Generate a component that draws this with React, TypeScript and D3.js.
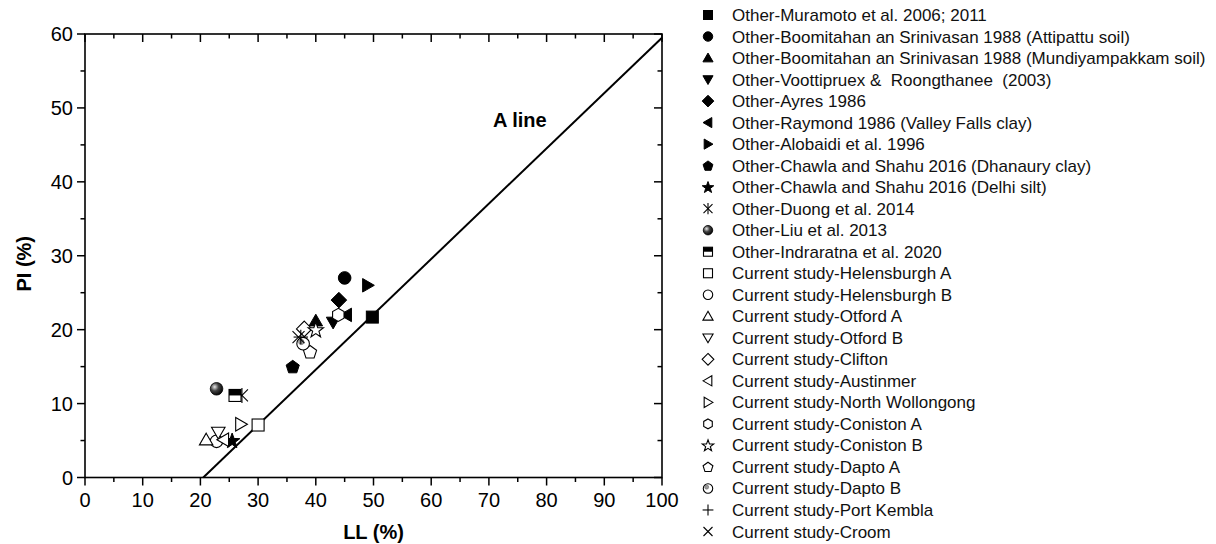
import * as d3 from "d3";

// ---- data ----
const otherNames = [
  "Other-Muramoto et al. 2006; 2011",
  "Other-Boomitahan an Srinivasan 1988 (Attipattu soil)",
  "Other-Boomitahan an Srinivasan 1988 (Mundiyampakkam soil)",
  "Other-Voottipruex &  Roongthanee  (2003)",
  "Other-Ayres 1986",
  "Other-Raymond 1986 (Valley Falls clay)",
  "Other-Alobaidi et al. 1996",
  "Other-Chawla and Shahu 2016 (Dhanaury clay)",
  "Other-Chawla and Shahu 2016 (Delhi silt)",
  "Other-Duong et al. 2014",
  "Other-Liu et al. 2013",
  "Other-Indraratna et al. 2020",
];
const otherShapes = ["square", "circle", "triUp", "triDown", "diamond", "triLeft", "triRight", "pentagon", "star", "asterisk", "ball", "halfSquare"];
const otherLL = [49.8, 45, 40, 43, 44, 45.3, 49, 36, 25.5, 27.2, 22.8, 26];
const otherPI = [21.7, 27, 21.2, 21, 24, 22, 26, 15, 5, 11.1, 12, 11.1];

const currentNames = [
  "Current study-Helensburgh A",
  "Current study-Helensburgh B",
  "Current study-Otford A",
  "Current study-Otford B",
  "Current study-Clifton",
  "Current study-Austinmer",
  "Current study-North Wollongong",
  "Current study-Coniston A",
  "Current study-Coniston B",
  "Current study-Dapto A",
  "Current study-Dapto B",
  "Current study-Port Kembla",
  "Current study-Croom",
];
const currentShapes = ["square", "circle", "triUp", "triDown", "diamond", "triLeft", "triRight", "hexagon", "star", "pentagon", "dotCircle", "plus", "cross"];
const currentLL = [30, 22.8, 21, 23.1, 38, 24, 27, 43.9, 40, 39, 37.8, 37.4, 37];
const currentPI = [7.1, 4.9, 5.1, 6.1, 20.1, 5.1, 7.2, 22, 20, 17, 18.1, 19, 19];

const xTicks = [0, 10, 20, 30, 40, 50, 60, 70, 80, 90, 100];
const yTicks = [0, 10, 20, 30, 40, 50, 60];
const aLineLL = [20.5, 100];
const aLinePI = [0, 59.5];

const W = 1216;
const H = 544;
const m = { left: 85, right: 662, top: 34, bottom: 477.5 };

function poly(n: number, r: number, rot: number, cx: number, cy: number) {
  return d3
    .range(n)
    .map((i) => {
      const a = rot + (i * 2 * Math.PI) / n;
      return `${cx + r * Math.cos(a)},${cy + r * Math.sin(a)}`;
    })
    .join(" ");
}

function starPts(cx: number, cy: number, ro: number, ri: number) {
  return d3
    .range(10)
    .map((i) => {
      const r = i % 2 === 0 ? ro : ri;
      const a = -Math.PI / 2 + (i * Math.PI) / 5;
      return `${cx + r * Math.cos(a)},${cy + r * Math.sin(a)}`;
    })
    .join(" ");
}

function Marker({ shape, x, y, s, filled }: { shape: string; x: number; y: number; s: number; filled: boolean }) {
  const fill = filled ? "#000" : "#fff";
  const sw = filled ? 1 : 1.1;
  const common = { fill, stroke: "#000", strokeWidth: sw };
  switch (shape) {
    case "square":
      return <rect x={x - s} y={y - s} width={2 * s} height={2 * s} {...common} />;
    case "circle":
      return <circle cx={x} cy={y} r={s * 1.05} {...common} />;
    case "triUp":
      return <polygon points={poly(3, s * 1.3, -Math.PI / 2, x, y + s * 0.2)} {...common} />;
    case "triDown":
      return <polygon points={poly(3, s * 1.3, Math.PI / 2, x, y - s * 0.2)} {...common} />;
    case "triLeft":
      return <polygon points={poly(3, s * 1.3, Math.PI, x + s * 0.2, y)} {...common} />;
    case "triRight":
      return <polygon points={poly(3, s * 1.3, 0, x - s * 0.2, y)} {...common} />;
    case "diamond":
      return <polygon points={poly(4, s * 1.3, -Math.PI / 2, x, y)} {...common} />;
    case "pentagon":
      return <polygon points={poly(5, s * 1.15, -Math.PI / 2, x, y + s * 0.1)} {...common} />;
    case "hexagon":
      return <polygon points={poly(6, s * 1.1, -Math.PI / 2, x, y)} {...common} />;
    case "star":
      return <polygon points={starPts(x, y + s * 0.1, s * 1.35, s * 0.55)} {...common} />;
    case "asterisk":
      return (
        <g stroke="#000" strokeWidth={1.1}>
          <line x1={x - s} y1={y - s} x2={x + s} y2={y + s} />
          <line x1={x - s} y1={y + s} x2={x + s} y2={y - s} />
          <line x1={x} y1={y - s * 1.25} x2={x} y2={y + s * 1.25} />
        </g>
      );
    case "ball":
      return <circle cx={x} cy={y} r={s * 1.05} fill="url(#ballGrad)" stroke="#000" strokeWidth={0.8} />;
    case "halfSquare":
      return (
        <g>
          <rect x={x - s} y={y - s} width={2 * s} height={2 * s} fill="#fff" stroke="#000" strokeWidth={1.1} />
          <rect x={x - s} y={y - s} width={2 * s} height={s} fill="#000" />
        </g>
      );
    case "dotCircle":
      return (
        <g>
          <circle cx={x} cy={y} r={s * 1.05} fill="#fff" stroke="#000" strokeWidth={1.1} />
          <circle cx={x - s * 0.3} cy={y - s * 0.3} r={s * 0.45} fill="#999" stroke="#666" strokeWidth={0.6} />
        </g>
      );
    case "plus":
      return (
        <g stroke="#000" strokeWidth={1.1}>
          <line x1={x - s * 1.2} y1={y} x2={x + s * 1.2} y2={y} />
          <line x1={x} y1={y - s * 1.2} x2={x} y2={y + s * 1.2} />
        </g>
      );
    case "cross":
      return (
        <g stroke="#000" strokeWidth={1.1}>
          <line x1={x - s} y1={y - s} x2={x + s} y2={y + s} />
          <line x1={x - s} y1={y + s} x2={x + s} y2={y - s} />
        </g>
      );
    default:
      return null;
  }
}

export default function App() {
  const x = d3.scaleLinear().domain([0, 100]).range([m.left, m.right]);
  const y = d3.scaleLinear().domain([0, 60]).range([m.bottom, m.top]);
  const xMinor = d3.range(5, 100, 10);
  const yMinor = d3.range(5, 60, 10);
  const font = "Liberation Sans, Arial, sans-serif";

  const aLine = d3
    .line<number>()
    .x((d) => x(d))
    .y((_, i) => y(aLinePI[i]));

  const legendNames = [...otherNames, ...currentNames];
  const legendShapes = [...otherShapes, ...currentShapes];
  const legendY = d3.scaleLinear().domain([0, legendNames.length - 1]).range([15, 531.5]);

  return (
    <svg width={W} height={H} style={{ position: "absolute", left: 0, top: 0, background: "#fff" }} fontFamily={font}>
      <defs>
        <radialGradient id="ballGrad" cx="0.35" cy="0.35" r="0.7">
          <stop offset="0" stopColor="#e8e8e8" />
          <stop offset="0.45" stopColor="#444" />
          <stop offset="1" stopColor="#000" />
        </radialGradient>
      </defs>
      <rect width={W} height={H} fill="#fff" />

      {/* frame */}
      <rect x={m.left} y={m.top} width={m.right - m.left} height={m.bottom - m.top} fill="none" stroke="#000" strokeWidth={1.6} />

      {/* bottom & top ticks */}
      {xTicks.map((t) => (
        <g key={"xt" + t}>
          <line x1={x(t)} x2={x(t)} y1={m.bottom} y2={m.bottom + 8} stroke="#000" strokeWidth={1.5} />
          <line x1={x(t)} x2={x(t)} y1={m.top} y2={m.top + 8} stroke="#000" strokeWidth={1.5} />
          <text x={x(t)} y={m.bottom + 29} textAnchor="middle" fontSize={20}>
            {t}
          </text>
        </g>
      ))}
      {xMinor.map((t) => (
        <g key={"xm" + t}>
          <line x1={x(t)} x2={x(t)} y1={m.bottom} y2={m.bottom + 4.5} stroke="#000" strokeWidth={1.5} />
          <line x1={x(t)} x2={x(t)} y1={m.top} y2={m.top + 4.5} stroke="#000" strokeWidth={1.5} />
        </g>
      ))}

      {/* left & right ticks */}
      {yTicks.map((t) => (
        <g key={"yt" + t}>
          <line x1={m.left - 8} x2={m.left} y1={y(t)} y2={y(t)} stroke="#000" strokeWidth={1.5} />
          <line x1={m.right - 8} x2={m.right} y1={y(t)} y2={y(t)} stroke="#000" strokeWidth={1.5} />
          <text x={m.left - 12} y={y(t) + 7} textAnchor="end" fontSize={20}>
            {t}
          </text>
        </g>
      ))}
      {yMinor.map((t) => (
        <g key={"ym" + t}>
          <line x1={m.left - 4.5} x2={m.left} y1={y(t)} y2={y(t)} stroke="#000" strokeWidth={1.5} />
          <line x1={m.right - 4.5} x2={m.right} y1={y(t)} y2={y(t)} stroke="#000" strokeWidth={1.5} />
        </g>
      ))}

      {/* axis titles */}
      <text x={(m.left + m.right) / 2} y={539} textAnchor="middle" fontSize={20} fontWeight="bold">
        LL (%)
      </text>
      <text transform={`translate(31,${(m.top + m.bottom) / 2 + 8}) rotate(-90)`} textAnchor="middle" fontSize={20} fontWeight="bold">
        PI (%)
      </text>

      {/* A line */}
      <path d={aLine(aLineLL) ?? ""} fill="none" stroke="#000" strokeWidth={2} />
      <text x={493} y={127} fontSize={20} fontWeight="bold">
        A line
      </text>

      {/* data */}
      {otherLL.map((v, i) => (
        <Marker key={"o" + i} shape={otherShapes[i]} x={x(v)} y={y(otherPI[i])} s={6} filled={true} />
      ))}
      {currentLL.map((v, i) => (
        <Marker key={"c" + i} shape={currentShapes[i]} x={x(v)} y={y(currentPI[i])} s={6} filled={false} />
      ))}

      {/* legend */}
      {legendNames.map((name, i) => (
        <g key={"l" + i}>
          <Marker shape={legendShapes[i]} x={708} y={legendY(i)} s={4.5} filled={i < otherNames.length} />
          <text x={732} y={legendY(i) + 6} fontSize={17} fill="#111" style={{ whiteSpace: "pre" }}>
            {name}
          </text>
        </g>
      ))}
    </svg>
  );
}
